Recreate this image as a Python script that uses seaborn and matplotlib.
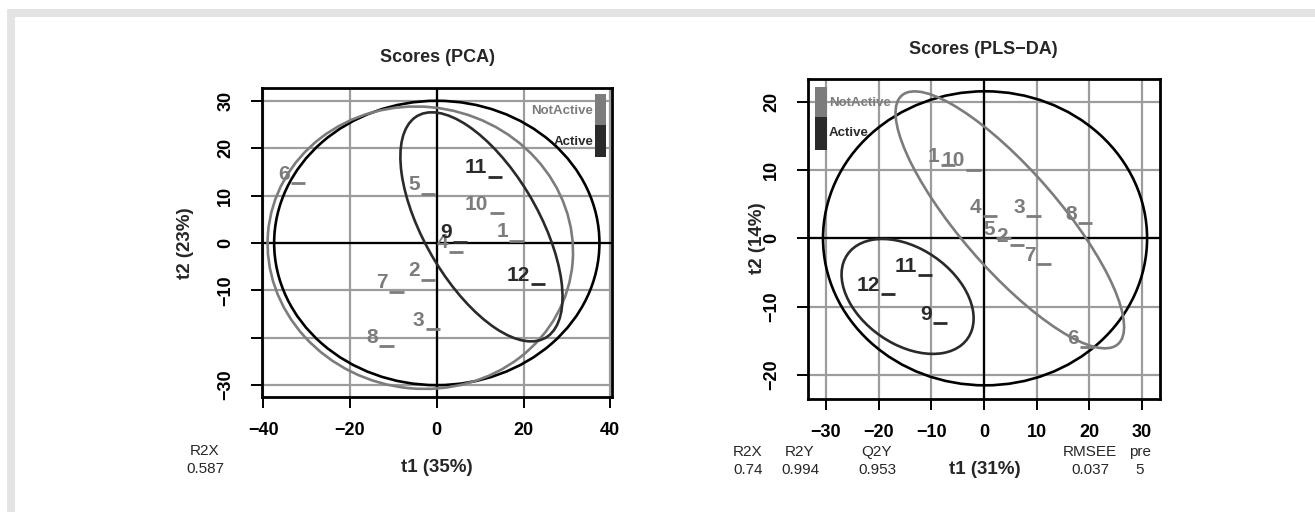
import numpy as np
import pandas as pd
import matplotlib
matplotlib.use("Agg")
import matplotlib.pyplot as plt
from matplotlib.patches import Ellipse, Rectangle
import seaborn as sns

# ---- data ----
sample_ids = ["1", "2", "3", "4", "5", "6", "7", "8", "9", "10", "11", "12"]
groups = ["NotActive", "NotActive", "NotActive", "NotActive", "NotActive", "NotActive",
          "NotActive", "NotActive", "Active", "NotActive", "Active", "Active"]

pca_t1 = [18.4, -2.0, -0.9, 4.5, -2.0, -32.0, -9.3, -11.6, 5.3, 13.8, 13.4, 23.4]
pca_t2 = [0.5, -7.8, -18.2, -1.8, 10.4, 12.6, -10.3, -21.8, 0.3, 6.3, 14.0, -8.7]

plsda_t1 = [-6.8, 6.2, 9.4, 1.1, 3.7, 19.5, 11.3, 19.2, -8.4, -2.0, -11.2, -18.2]
plsda_t2 = [10.7, -1.0, 3.2, 3.2, 0.0, -15.9, -3.8, 2.2, -12.4, 10.0, -5.4, -8.2]

# confidence ellipses: (centre t1, centre t2, width, height, angle in degrees)
pca_ell_all = (0.0, 0.0, 75.0, 60.0, 0.0)
pca_ell_notactive = (-3.8, -1.0, 70.5, 59.5, -5.0)
pca_ell_active = (10.3, 3.4, 55.4, 25.8, -56.5)
plsda_ell_all = (0.2, 0.0, 61.5, 43.0, 0.0)
plsda_ell_notactive = (4.9, 2.7, 55.0, 16.4, -40.1)
plsda_ell_active = (-14.5, -8.5, 26.3, 14.8, -21.5)

pca_metric_names = ["R2X"]
pca_metric_values = ["0.587"]
plsda_metric_names = ["R2X", "R2Y", "Q2Y", "RMSEE", "pre"]
plsda_metric_values = ["0.74", "0.994", "0.953", "0.037", "5"]

pca_xticks = [-40, -20, 0, 20, 40]
pca_yticks = [30, 20, 10, 0, -10, -20, -30]
pca_yticklabels = ["30", "20", "10", "0", "\u221210", "", "\u221230"]
plsda_xticks = [-30, -20, -10, 0, 10, 20, 30]
plsda_yticks = [20, 10, 0, -10, -20]

# ---- style ----
sns.set_theme(style="white")
plt.rcParams["font.family"] = ["Liberation Sans", "DejaVu Sans"]
plt.rcParams["axes.unicode_minus"] = True

W, H = 1315, 512
col_not = "#7c7c7c"
col_act = "#2a2a2a"
grid_col = "#9c9c9c"
palette = {"NotActive": col_not, "Active": col_act}

fig = plt.figure(figsize=(W / 100, H / 100), dpi=100)
fig.patch.set_facecolor("white")


def px_box(l, t, r, b):
    return [l / W, 1 - b / H, (r - l) / W, (b - t) / H]


def ftext(x, y, s, **kw):
    fig.text(x / W, 1 - y / H, s, ha="center", va="center", **kw)


# light frame along the top and left border
fig.patches.append(Rectangle((7 / W, 0), 8 / W, 1 - 9 / H, transform=fig.transFigure,
                             facecolor="#e4e4e4", edgecolor="none", zorder=0))
fig.patches.append(Rectangle((7 / W, 1 - 17 / H), 1 - 7 / W, 8 / H, transform=fig.transFigure,
                             facecolor="#e4e4e4", edgecolor="none", zorder=0))


def draw_panel(ax, t1, t2, ellipses, xlim, ylim, xticks, yticks, yticklabels):
    df = pd.DataFrame({"t1": t1, "t2": t2, "group": groups, "id": sample_ids})
    ax.set_xlim(*xlim)
    ax.set_ylim(*ylim)
    ax.set_xticks(xticks)
    ax.set_yticks(yticks)
    ax.set_yticklabels(yticklabels)
    ax.set_axisbelow(True)
    ax.grid(True, color=grid_col, lw=1.6)
    ax.axhline(0, color="black", lw=1.6, zorder=1)
    ax.axvline(0, color="black", lw=1.6, zorder=1)

    for (cx, cy, w, h, ang), c in ellipses:
        ax.add_patch(Ellipse((cx, cy), w, h, angle=ang, fill=False,
                             edgecolor=c, lw=1.9, zorder=3))

    sns.scatterplot(data=df, x="t1", y="t2", hue="group", palette=palette,
                    marker="_", s=105, linewidth=2.0, legend=False, ax=ax, zorder=4)
    for _, r in df.iterrows():
        ax.annotate(r["id"], (r["t1"], r["t2"]), xytext=(-6.0, 2.5),
                    textcoords="offset points", ha="right", va="baseline",
                    fontsize=15, fontweight="bold", color=palette[r["group"]], zorder=5)

    ax.set_xlabel("")
    ax.set_ylabel("")
    for s in ax.spines.values():
        s.set_color("black")
        s.set_linewidth(2.0)
    ax.tick_params(axis="both", direction="out", length=8, width=1.4, color="black",
                   labelsize=13, bottom=True, left=True, top=False, right=False)
    ax.tick_params(axis="x", pad=10)
    ax.tick_params(axis="y", pad=12)
    for lab in ax.get_xticklabels() + ax.get_yticklabels():
        lab.set_fontweight("bold")
        lab.set_color("black")
    for lab in ax.get_yticklabels():
        lab.set_rotation(90)
        lab.set_va("center")


def draw_legend(ax, x0, x1, y_top, y_mid, y_bot, tx, ty_not, ty_act, ha):
    ax.add_patch(Rectangle((x0, y_mid), x1 - x0, y_top - y_mid, transform=ax.transAxes,
                           facecolor=col_not, edgecolor="none", zorder=6, clip_on=False))
    ax.add_patch(Rectangle((x0, y_bot), x1 - x0, y_mid - y_bot, transform=ax.transAxes,
                           facecolor=col_act, edgecolor="none", zorder=6, clip_on=False))
    ax.text(tx, ty_not, "NotActive", transform=ax.transAxes, ha=ha, va="center",
            fontsize=9.5, fontweight="bold", color=col_not, zorder=6)
    ax.text(tx, ty_act, "Active", transform=ax.transAxes, ha=ha, va="center",
            fontsize=9.5, fontweight="bold", color=col_act, zorder=6)


# ---- PCA panel ----
ax1 = fig.add_axes(px_box(262, 88, 612, 397))
draw_panel(ax1, pca_t1, pca_t2,
           [(pca_ell_all, "black"), (pca_ell_notactive, col_not), (pca_ell_active, col_act)],
           (-40.3, 40.4), (-32.5, 32.7), pca_xticks, pca_yticks, pca_yticklabels)
draw_legend(ax1, 0.951, 0.983, 0.981, 0.880, 0.777, 0.946, 0.926, 0.825, "right")
ftext(437, 57, "Scores (PCA)", fontsize=13, fontweight="bold")
ftext(437, 467, "t1 (35%)", fontsize=13.5, fontweight="bold")
ftext(186, 243, "t2 (23%)", fontsize=13.5, fontweight="bold", rotation=90)
for name, val in zip(pca_metric_names, pca_metric_values):
    ftext(205, 451, name, fontsize=11)
    ftext(205, 469, val, fontsize=11)

# ---- PLS-DA panel ----
ax2 = fig.add_axes(px_box(808, 79, 1160, 399))
plsda_yticklabels = [str(v).replace("-", "\u2212") for v in plsda_yticks]
draw_panel(ax2, plsda_t1, plsda_t2,
           [(plsda_ell_all, "black"), (plsda_ell_notactive, col_not), (plsda_ell_active, col_act)],
           (-33.4, 33.4), (-23.5, 23.3), plsda_xticks, plsda_yticks, plsda_yticklabels)
draw_legend(ax2, 0.020, 0.054, 0.975, 0.881, 0.778, 0.060, 0.925, 0.831, "left")
ftext(983, 49, "Scores (PLS\u2212DA)", fontsize=13, fontweight="bold")
ftext(985, 469, "t1 (31%)", fontsize=13.5, fontweight="bold")
ftext(757, 238, "t2 (14%)", fontsize=13.5, fontweight="bold", rotation=90)
metric_x = [748, 800, 877, 1090, 1140]
for mx, name, val in zip(metric_x, plsda_metric_names, plsda_metric_values):
    ftext(mx, 452, name, fontsize=11)
    ftext(mx, 470, val, fontsize=11)

fig.savefig("out.png", dpi=100, facecolor="white")
